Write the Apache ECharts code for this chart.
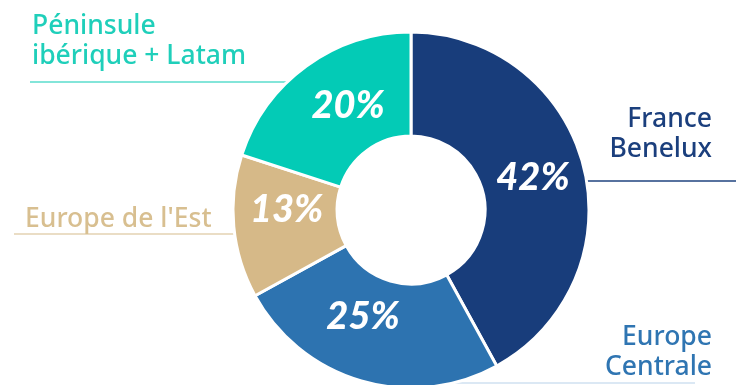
<!DOCTYPE html>
<html>
<head>
<meta charset="utf-8">
<script src="https://cdn.jsdelivr.net/npm/echarts@6/dist/echarts.min.js"></script>
<style>
  html, body { margin: 0; padding: 0; background: #ffffff; }
  #chart { width: 736px; height: 385px; }
</style>
</head>
<body>
<div id="chart"></div>
<script>
// Regional split of activity (%)
const regions = ['France\nBenelux', 'Europe\nCentrale', "Europe de l'Est", 'Péninsule\nibérique + Latam'];
const shares = [42, 25, 13, 20];
const sliceColors = ['#183d7b', '#2d73b0', '#d6b988', '#03cbb6'];
const textColors = ['#1b3f7d', '#2f75b2', '#d8bf90', '#1fcfba'];
const ruleColors = ['#1f437f', '#cfe1f1', '#e3d2b2', '#5adccd'];

const CX = 411, CY = 210, R_IN = 74, R_OUT = 178;

// fine placement of the percentage labels inside each slice
const labelNudge = [[-3, 0], [-12, -17], [4, -12], [13, 0]];

// outside captions: anchor, alignment, rule y and rule far end
const captions = [
  { x: 712, y: 134, align: 'right', ruleY: 181, ruleEnd: 736, side: 1 },
  { x: 712, y: 352, align: 'right', ruleY: 383, ruleEnd: 695, side: 1 },
  { x: 25,  y: 219, align: 'left',  ruleY: 234, ruleEnd: 14,  side: -1 },
  { x: 32,  y: 41,  align: 'left',  ruleY: 82,  ruleEnd: 30,  side: -1 }
];

const chart = echarts.init(document.getElementById('chart'), null, { renderer: 'canvas' });

const graphics = [];
regions.forEach((name, i) => {
  const c = captions[i];
  const dy = c.ruleY - CY;
  const edge = CX + c.side * Math.sqrt(Math.max(0, R_OUT * R_OUT - dy * dy));
  graphics.push({
    type: 'line', z: 1,
    shape: { x1: c.ruleEnd, y1: c.ruleY, x2: edge, y2: c.ruleY },
    style: { stroke: ruleColors[i], lineWidth: 1.5 }
  });
  graphics.push({
    type: 'text', z: 5,
    style: {
      text: name, x: c.x, y: c.y,
      fill: textColors[i],
      font: '500 26.5px "Noto Sans", Lato, sans-serif',
      lineHeight: 30,
      align: c.align, verticalAlign: 'middle'
    }
  });
});

chart.setOption({
  animation: false,
  backgroundColor: '#ffffff',
  graphic: graphics,
  series: [{
    type: 'pie',
    center: [CX, CY],
    radius: [R_IN, R_OUT],
    startAngle: 90,
    clockwise: true,
    silent: true,
    itemStyle: { borderColor: '#ffffff', borderWidth: 3 },
    label: {
      show: true,
      position: 'inside',
      formatter: '{c}%',
      color: '#ffffff',
      fontFamily: 'Lato, "Noto Sans", sans-serif',
      fontWeight: 900,
      fontStyle: 'italic',
      fontSize: 38
    },
    labelLine: { show: false },
    data: shares.map((v, i) => ({
      value: v,
      name: regions[i],
      itemStyle: { color: sliceColors[i] },
      label: { offset: labelNudge[i] }
    }))
  }]
});
</script>
</body>
</html>
